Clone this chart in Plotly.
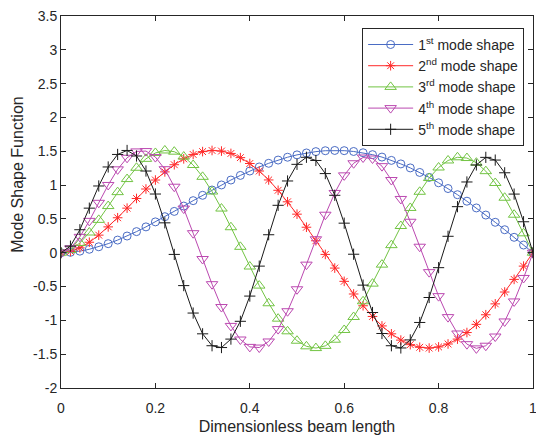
import plotly.graph_objects as go

x_vals = [round(0.02 * i, 2) for i in range(51)]

mode1 = [0.0, 0.006, 0.023, 0.051, 0.088, 0.134, 0.187, 0.247, 0.312, 0.382,
         0.456, 0.533, 0.611, 0.690, 0.770, 0.849, 0.927, 1.002, 1.075, 1.143,
         1.208, 1.268, 1.322, 1.370, 1.412, 1.447, 1.475, 1.495, 1.508, 1.512,
         1.509, 1.497, 1.478, 1.450, 1.414, 1.365, 1.313, 1.254, 1.187, 1.114,
         1.034, 0.949, 0.858, 0.762, 0.662, 0.557, 0.450, 0.340, 0.228, 0.114, 0.0]

mode2 = [0.0, 0.019, 0.072, 0.155, 0.260, 0.382, 0.517, 0.659, 0.802, 0.942,
         1.075, 1.195, 1.301, 1.388, 1.453, 1.495, 1.512, 1.503, 1.468, 1.406,
         1.319, 1.208, 1.076, 0.923, 0.753, 0.570, 0.377, 0.177, -0.025, -0.227,
         -0.423, -0.610, -0.784, -0.942, -1.082, -1.199, -1.292, -1.359, -1.398, -1.410,
         -1.393, -1.349, -1.277, -1.180, -1.059, -0.917, -0.756, -0.581, -0.394, -0.198, 0.0]

mode3 = [0.0, 0.039, 0.144, 0.299, 0.486, 0.690, 0.896, 1.089, 1.256, 1.388,
         1.475, 1.512, 1.494, 1.422, 1.297, 1.122, 0.905, 0.653, 0.377, 0.087,
         -0.204, -0.486, -0.747, -0.975, -1.162, -1.301, -1.384, -1.410, -1.377, -1.286,
         -1.142, -0.950, -0.718, -0.457, -0.176, 0.112, 0.395, 0.662, 0.901, 1.104,
         1.260, 1.364, 1.411, 1.400, 1.331, 1.206, 1.031, 0.813, 0.562, 0.287, 0.0]

mode4 = [0.0, 0.065, 0.235, 0.471, 0.738, 1.002, 1.233, 1.404, 1.498, 1.503,
         1.414, 1.235, 0.976, 0.653, 0.289, -0.093, -0.465, -0.803, -1.082, -1.283,
         -1.392, -1.402, -1.312, -1.129, -0.865, -0.540, -0.176, 0.199, 0.562, 0.884,
         1.144, 1.323, 1.408, 1.393, 1.280, 1.075, 0.795, 0.458, 0.089, -0.287,
         -0.642, -0.952, -1.194, -1.352, -1.414, -1.375, -1.239, -1.016, -0.720, -0.373, 0.0]

mode5 = [0.0, 0.097, 0.340, 0.659, 0.987, 1.268, 1.453, 1.512, 1.430, 1.208,
         0.868, 0.442, -0.025, -0.486, -0.892, -1.199, -1.375, -1.402, -1.277, -1.014,
         -0.641, -0.198, 0.266, 0.701, 1.061, 1.307, 1.411, 1.364, 1.170, 0.849,
         0.437, -0.022, -0.479, -0.884, -1.194, -1.375, -1.408, -1.289, -1.031, -0.662,
         -0.221, 0.243, 0.681, 1.046, 1.298, 1.410, 1.370, 1.182, 0.867, 0.458, 0.0]

x_ticks = [0, 0.2, 0.4, 0.6, 0.8, 1]
x_ticktext = ["0", "0.2", "0.4", "0.6", "0.8", "1"]
y_ticks = [-2, -1.5, -1, -0.5, 0, 0.5, 1, 1.5, 2, 2.5, 3, 3.5]
y_ticktext = ["-2", "-1.5", "-1", "-0.5", "0", "0.5", "1", "1.5", "2", "2.5", "3", "3.5"]

names = ["1<sup>st</sup> mode shape", "2<sup>nd</sup> mode shape", "3<sup>rd</sup> mode shape",
         "4<sup>th</sup> mode shape", "5<sup>th</sup> mode shape"]
series = [mode1, mode2, mode3, mode4, mode5]
colors = ["#4a6cc4", "#ff2a2a", "#72c443", "#bb48b0", "#1a1a1a"]
symbols = ["circle-open", "asterisk-open", "triangle-up-open", "triangle-down-open", "cross-thin-open"]
sizes = [8, 8, 10, 10, 8]

fig = go.Figure()
for nm, ys, c, sym, sz in zip(names, series, colors, symbols, sizes):
    fig.add_trace(go.Scatter(
        x=x_vals, y=ys, mode="lines+markers", name=nm,
        line=dict(color=c, width=1),
        marker=dict(symbol=sym, size=sz, color=c, line=dict(color=c, width=1)),
    ))

font_family = "Liberation Sans, Arial, sans-serif"
axis_common = dict(
    showgrid=False, zeroline=False, showline=True, linecolor="#262626", linewidth=1,
    mirror="ticks", ticks="inside", ticklen=5, tickcolor="#262626",
    ticklabeloverflow="allow", automargin=False,
    tickfont=dict(family=font_family, size=14, color="#262626"),
)

fig.update_layout(
    width=536, height=437,
    margin=dict(l=61, r=3, t=16, b=49),
    paper_bgcolor="white", plot_bgcolor="white",
    font=dict(family=font_family, color="#262626"),
    xaxis=dict(range=[0, 1], tickvals=x_ticks, ticktext=x_ticktext, ticklabelstandoff=7,
               title=dict(text="Dimensionless beam length", font=dict(size=16), standoff=6),
               **axis_common),
    yaxis=dict(range=[-2, 3.5], tickvals=y_ticks, ticktext=y_ticktext, **axis_common),
    legend=dict(x=0.638, y=0.968, xanchor="left", yanchor="top",
                bgcolor="white", bordercolor="#262626", borderwidth=1,
                font=dict(size=14, color="#262626"), tracegroupgap=0,
                itemwidth=45),
    showlegend=True,
    annotations=[dict(text="Mode Shape Function", textangle=-90,
                      xref="paper", yref="paper", x=-0.0911, y=0.573,
                      xanchor="center", yanchor="middle", showarrow=False,
                      font=dict(family=font_family, size=16, color="#262626"))],
)

fig.write_html("out.html")
